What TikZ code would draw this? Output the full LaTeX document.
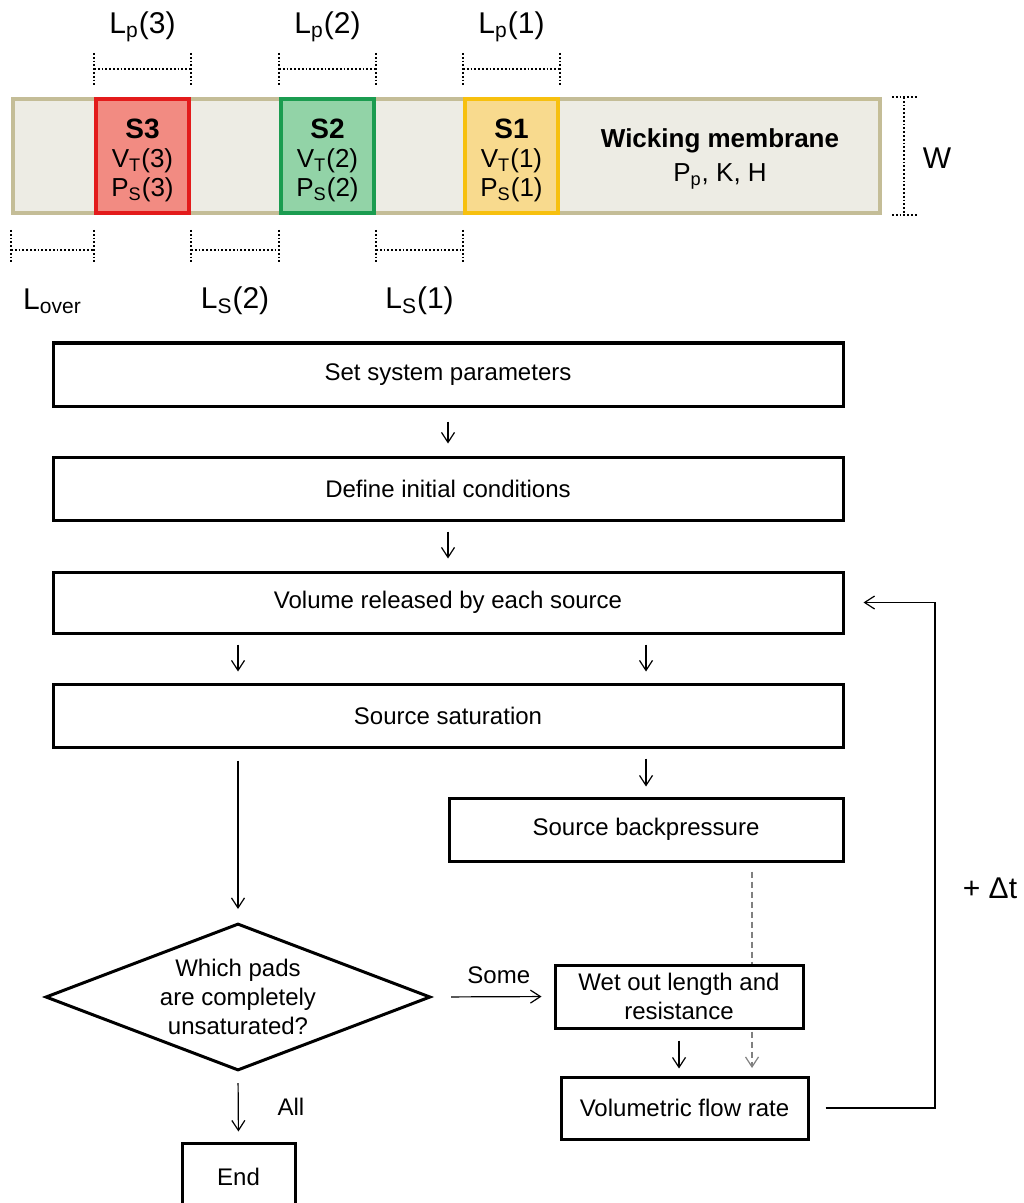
\documentclass[tikz,border=0pt]{standalone}
\usepackage{fontspec}
\setmainfont{Liberation Sans}
\usetikzlibrary{arrows.meta,positioning,calc,shapes.geometric}

\definecolor{membfill}{HTML}{EDECE4}
\definecolor{membline}{HTML}{C4BD97}
\definecolor{rdfill}{HTML}{F28B82}
\definecolor{rdline}{HTML}{E31B1B}
\definecolor{grfill}{HTML}{92D3A7}
\definecolor{grline}{HTML}{1B9C50}
\definecolor{ylfill}{HTML}{F8DA8E}
\definecolor{ylline}{HTML}{F7C00E}

\tikzset{
  pad/.style={draw,line width=2pt,minimum width=46.5pt,minimum height=57pt,inner sep=0pt},
  padtxt/.style={align=center,inner sep=0pt,font=\fontsize{13}{14.5}\selectfont},
  dim/.style={densely dotted,line width=0.9pt},
  dimlbl/.style={font=\fontsize{15}{17}\selectfont,inner sep=0pt},
  stepbox/.style={draw,line width=1.5pt,inner sep=0pt,align=center},
  link/.style={->,line width=0.6pt},
}

\begin{document}
\begin{tikzpicture}[x=0.5pt,y=-0.5pt,>={Straight Barb[length=5pt,width=6.5pt]},font=\fontsize{12}{14.5}\selectfont]
\useasboundingbox (0,0) rectangle (1023,1203);

% membrane strip and sources
\node[draw=membline,fill=membfill,line width=2pt,minimum width=433.5pt,minimum height=57pt,inner sep=0pt] (strip) at (446.5,156) {};
\foreach \n/\x/\c in {3/142.5/rd,2/327.5/gr,1/511.5/yl}
{
 \node[pad,draw=\c line,fill=\c fill] (s\n) at (\x,156) {};
 \node[padtxt] (t\n) at ($(s\n)+(0,4)$) {{\bfseries\fontsize{14}{14.5}\selectfont S\n}\\V\textsubscript{T}(\n)\\P\textsubscript{S}(\n)};
}
\node[align=center,font=\fontsize{13}{17}\selectfont] (wick) at (720,159) {{\bfseries\fontsize{13}{17}\selectfont Wicking membrane}\\P\textsubscript{p}, K, H};

% pad lengths
\foreach \n in {3,2,1}
{
 \draw[dim] (s\n.north west) ++(0,-44) -- ++(0,33);
 \draw[dim] (s\n.north east) ++(0,-44) -- ++(0,33);
 \draw[dim] ($(s\n.north west)+(0,-28)$) -- ($(s\n.north east)+(0,-28)$);
 \node[dimlbl] (lp\n) at ($(s\n.north)+(0,-70)$) {L\textsubscript{p}(\n)};
}

% spacings
\foreach \a/\b/\txt/\nm in {strip.south west/s3.south west/{L\textsubscript{over}}/lov,s3.south east/s2.south west/{L\textsubscript{S}(2)}/ls2,s2.south east/s1.south west/{L\textsubscript{S}(1)}/ls1}
{
 \draw[dim] (\a) ++(0,15) -- ++(0,34);
 \draw[dim] (\b) ++(0,15) -- ++(0,34);
 \draw[dim] ($(\a)+(0,35)$) -- ($(\b)+(0,35)$);
 \path (\a) -- (\b) node[midway,yshift=-43pt,dimlbl] (\nm) {\txt};
}

% width
\draw[dim] ($(strip.north east)+(10,0)$) -- ++(26,0);
\draw[dim] ($(strip.south east)+(10,0)$) -- ++(26,0);
\draw[dim] ($(strip.north east)+(22,0)$) -- ($(strip.south east)+(22,0)$);
\node[dimlbl] (wid) at ($(strip.east)+(55,2)$) {W};

% flow chart
\node[stepbox,minimum width=395pt,minimum height=31.5pt] (set) at (448,374.5) {Set system parameters};
\node[stepbox,minimum width=395pt,minimum height=31.5pt] (init) at (448,488.5) {Define initial conditions};
\node[stepbox,minimum width=395pt,minimum height=30.5pt] (vol) at (448,602.5) {Volume released by each source};
\node[stepbox,minimum width=395pt,minimum height=31.5pt] (sat) at (448,715.5) {Source saturation};
\node[stepbox,minimum width=197pt,minimum height=31.5pt] (back) at (646,829.5) {Source backpressure};
\node[stepbox,diamond,aspect=2.6,minimum width=192.5pt,minimum height=73.5pt] (dia) at (238,997) {Which pads\\are completely\\unsaturated?};
\coordinate (dsh) at (752,900);
\coordinate (fb) at (935,602);
\draw[link,gray,dash pattern=on 3pt off 2pt,shorten <=4.5pt,shorten >=4.5pt] (back.south -| dsh) -- (dsh |- 0,1077);
\node[stepbox,fill=white,minimum width=124pt,minimum height=31.5pt] (wet) at (679,996.5) {Wet out length and\\resistance};
\node[stepbox,minimum width=123.5pt,minimum height=31pt] (flow) at (684.5,1108) {Volumetric flow rate};
\node[stepbox,minimum width=56.5pt,minimum height=33.5pt] (end) at (238.5,1176.5) {End};

\draw[link,shorten <=7pt,shorten >=6pt] (set) -- (init);
\draw[link,shorten <=5pt,shorten >=6pt] (init) -- (vol);
\draw[link,shorten <=5pt,shorten >=5.5pt] (vol.south -| dia.north) -- (sat.north -| dia.north);
\draw[link,shorten <=5pt,shorten >=5.5pt] (vol.south -| back.north) -- (sat.north -| back.north);
\draw[link,shorten <=6pt,shorten >=6.5pt] (sat.south -| dia.north) -- (dia.north);
\draw[link,shorten <=5pt,shorten >=5pt] (sat.south -| back.north) -- (back.north);
\draw[link,shorten <=9.5pt,shorten >=6pt] (dia.east) -- (wet.west) node[midway,above=3pt,xshift=3pt] (some) {Some};
\draw[link,shorten <=5.5pt,shorten >=3.5pt] (wet.south) -- (wet.south |- flow.north);
\draw[link,shorten <=5.5pt,shorten >=5pt] (dia.south) -- (end.north) node[midway,right=16pt] (all) {All};
\draw[link,shorten <=8pt,shorten >=9.5pt] (flow.east) -- (flow.east -| fb) -- (vol.east -| fb) -- (vol.east);
\node[font=\fontsize{15}{17}\selectfont] (dt) at (990,888) {+ Δt};
\end{tikzpicture}
\end{document}
